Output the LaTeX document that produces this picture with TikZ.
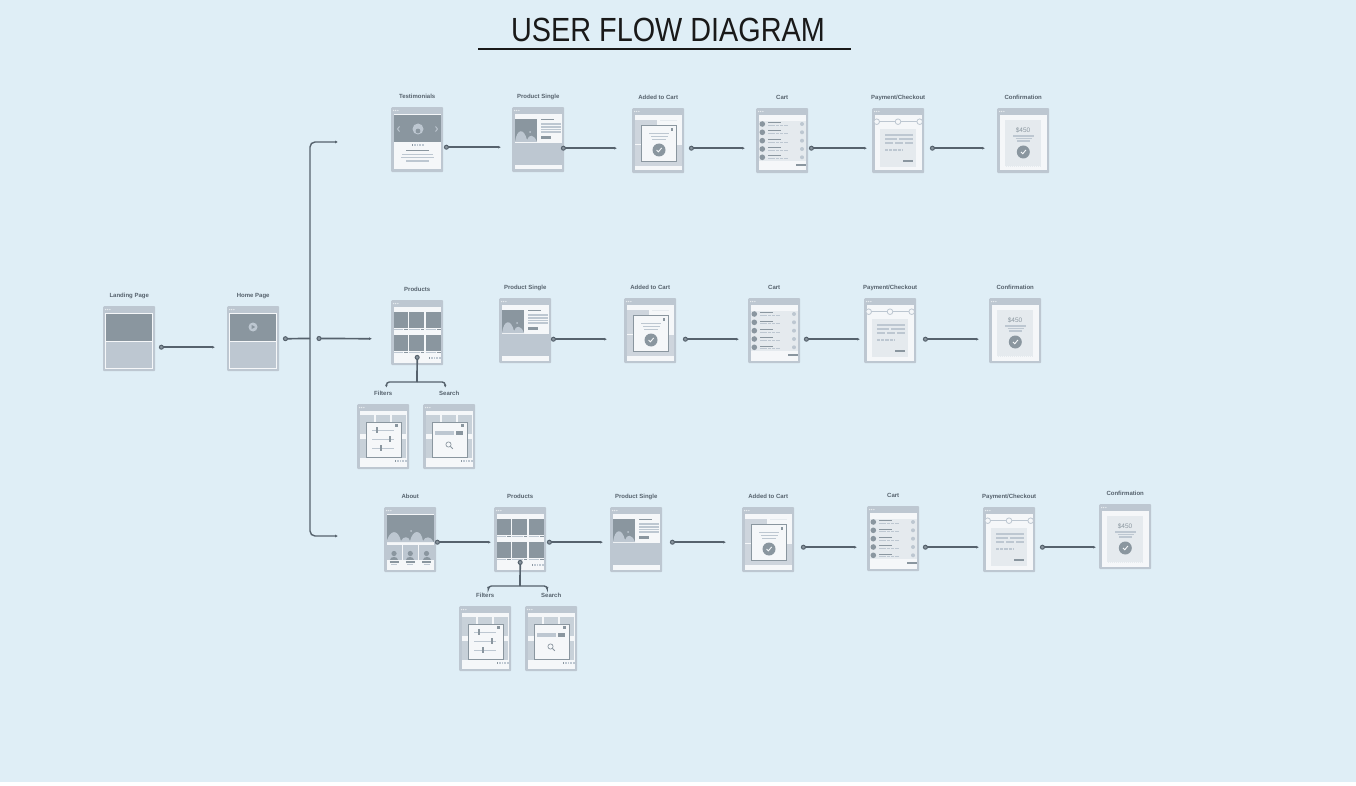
\documentclass[tikz,border=0pt]{standalone}
\usepackage{fontspec}
\setmainfont{Liberation Sans}
\newfontfamily\titlefont[FakeStretch=0.86]{Liberation Sans}
\usetikzlibrary{positioning,arrows.meta}
\definecolor{backc}{HTML}{DFEEF6}
\definecolor{framec}{HTML}{BDC7D1}
\definecolor{darkc}{HTML}{8A969F}
\definecolor{paperc}{HTML}{F5F7F9}
\definecolor{panelc}{HTML}{E5EAEE}
\definecolor{linec}{HTML}{56626D}

% little helpers used by the page sketches
\newcommand{\sheet}{\fill[paperc] (2.5,7) rectangle (49.5,62.5);}
\newcommand{\txt}[4][framec]{\draw[#1, line width=1.1pt] (#2,#4) -- (#3,#4);}
\newcommand{\okmark}[2]{
  \fill[darkc] (#1,#2) circle (6.5pt);
  \draw[paperc, line width=.9pt] (#1-2.4,#2) -- (#1-.6,#2+1.8) -- (#1+2.6,#2-2);
}
\newcommand{\pager}[2]{
  \fill[darkc] (#1,#2-.8) rectangle (#1+1.6,#2+.8);
  \foreach \k in {1,...,4} \fill[framec] (#1+\k*2.6,#2-.8) rectangle (#1+\k*2.6+1.6,#2+.8);
}
\newcommand{\closex}[2]{\fill[darkc] (#1-1.1,#2-1.1) rectangle (#1+1.1,#2+1.1);}

\tikzset{
  barb/.tip={Latex[length=2.8pt, width=2.8pt]},
  landing page/.pic={
    \fill[paperc] (2,7) rectangle (50,63);
    \fill[darkc] (3,8) rectangle (49,35);
    \fill[framec] (3,36) rectangle (49,62);
  },
  home page/.pic={
    \fill[paperc] (2,7) rectangle (50,63);
    \fill[darkc] (3,8) rectangle (49,35);
    \fill[framec] (3,36) rectangle (49,62);
    \fill[framec] (26,21) circle (4.5pt);
    \fill[darkc] (24.6,19) -- (28.4,21) -- (24.6,23) -- cycle;
  },
  quotes page/.pic={
    \sheet
    \fill[darkc] (3,8) rectangle (50,35);
    \fill[framec] (27,22) circle (5.5pt);
    \fill[darkc] (27,24) circle (2.4pt);
    \draw[framec, line width=.9pt] (8.5,19.5) -- (6.5,22) -- (8.5,24.5);
    \draw[framec, line width=.9pt] (44.5,19.5) -- (46.5,22) -- (44.5,24.5);
    \pager{20.5}{38}
    \txt[darkc]{15}{38}{43.5}
    \txt{11}{42}{47.5}
    \txt{10}{43}{50.5}
    \txt{15}{38}{54}
  },
  single page/.pic={
    \sheet
    \fill[darkc] (3,12) rectangle (25,35);
    \fill[framec] (3,35) .. controls (5,21) and (12,21) .. (15,33) .. controls (17,27) and (22,27) .. (25,35) -- cycle;
    \fill[framec] (18,25) circle (1pt);
    \txt[darkc]{29}{42}{12.5}
    \foreach \yy in {17,20,22.5,25} \txt{29}{49}{\yy}
    \fill[darkc] (29,29) rectangle (39,32);
    \fill[framec] (3,36) rectangle (50,58);
  },
  added page/.pic={
    \sheet
    \fill[framec!70!paperc] (3,12) rectangle (25,36);
    \fill[framec!70!paperc] (3,37) rectangle (50,58);
    \txt[panelc]{28}{45}{12.5}
    \fill[paperc, draw=darkc, line width=.6pt] (9,17.5) rectangle (44.5,53);
    \closex{40}{21.5}
    \txt{17}{37}{25.5}
    \txt{19}{36}{28.5}
    \txt{20}{34}{31.5}
    \okmark{27}{42}
  },
  cart page/.pic={
    \sheet
    \fill[panelc] (2.5,13) rectangle (49.5,53);
    \foreach \yy in {16,24.3,32.7,41,49.3}{
      \fill[darkc] (6.3,\yy) circle (2.8pt);
      \fill[framec] (46,\yy) circle (2pt);
      \draw[darkc, line width=.8pt] (12,\yy-1.4) -- (25,\yy-1.4);
      \draw[framec, line width=.8pt, dash pattern=on 7pt off 1pt on 3pt off 1pt on 3pt off 1pt] (12,\yy+1.4) -- (32,\yy+1.4);
    }
    \fill[darkc] (40,55.8) rectangle (50,58.4);
  },
  pay page/.pic={
    \sheet
    \draw[framec, line width=.8pt] (4.7,13.7) -- (47.7,13.7);
    \foreach \xx in {4.7,26,47.7} \draw[framec, fill=paperc, line width=.8pt] (\xx,13.7) circle (2.8pt);
    \fill[panelc] (8,21) rectangle (44,59);
    \txt{13}{40.5}{27}
    \txt{13}{25}{31}
    \txt{27}{40.5}{31}
    \txt{13}{21}{35}
    \txt{23}{31}{35}
    \txt{33}{40.5}{35}
    \draw[framec, line width=1.1pt, dash pattern=on 3.2pt off 1pt] (13,42) -- (31,42);
    \fill[darkc] (31,52) rectangle (40.5,54.4);
  },
  confirm page/.pic={
    \sheet
    \fill[panelc] (8,12) rectangle (44,59);
    \draw[paperc, line width=.8pt, dash pattern=on 1pt off 1pt] (8,58.8) -- (44,58.8);
    \node[amount] (#1) at (26,22) {\$450};
    \txt{16}{37}{28}
    \txt{18.5}{35}{30.5}
    \txt{20}{33}{33}
    \okmark{26.3}{44}
  },
  products page/.pic={
    \sheet
    \foreach \yy in {12,35}{
      \foreach \xx/\xe in {2.5/16.5,18/33,34.5/49.5}{
        \fill[darkc] (\xx,\yy) rectangle (\xe,\yy+15.5);
        \draw[framec, line width=.7pt] (\xx,\yy+17) -- (\xe-4.5,\yy+17);
        \draw[darkc, line width=.7pt] (\xe-3.5,\yy+17) -- (\xe,\yy+17);
      }
    }
    \pager{37.5}{58}
  },
  about page/.pic={
    \sheet
    \fill[darkc] (2.5,8) rectangle (49.5,35);
    \fill[framec] (2.5,35) .. controls (6,22) and (14,22) .. (17,34) .. controls (19,29) and (25,29) .. (26,34) .. controls (29,22) and (37,22) .. (39,34) .. controls (41,29) and (47,29) .. (49.5,35) -- cycle;
    \fill[framec] (27,24) circle (1pt);
    \foreach \xx in {10,26.3,42.5}{
      \fill[framec] (\xx-7.5,38) rectangle (\xx+7.5,53);
      \fill[darkc] (\xx,46.5) circle (2.6pt);
      \fill[darkc] (\xx-4,53) .. controls (\xx-4,49) and (\xx+4,49) .. (\xx+4,53) -- cycle;
      \txt[darkc]{\xx-4.5}{\xx+4.5}{55}
      \txt{\xx-3}{\xx+3}{57.5}
    }
  },
  faded tiles/.pic={
    \sheet
    \foreach \yy in {11,34.5}{
      \foreach \xx/\xe in {2.7/17,19/33,35/49}{
        \fill[framec!80!paperc] (\xx,\yy) rectangle (\xe,\yy+19);
      }
    }
    \pager{37.5}{57}
    \fill[paperc, draw=darkc, line width=.6pt] (9,18) rectangle (44,53);
    \closex{39.5}{21.5}
  },
  filters page/.pic={
    \pic {faded tiles};
    \foreach \yy/\kx in {26/20,35/33,44/24}{
      \draw[framec, line width=.9pt] (15,\yy) -- (37,\yy);
      \fill[darkc] (\kx-1,\yy-2.6) rectangle (\kx+1,\yy+2.6);
    }
  },
  search page/.pic={
    \pic {faded tiles};
    \fill[framec] (12,27) rectangle (31,31);
    \fill[darkc] (32.5,27) rectangle (40,31);
    \draw[darkc, line width=.7pt] (25.5,40.5) circle (2.6pt);
    \draw[darkc, line width=.9pt] (27.4,42.4) -- (29.8,44.8);
  },
}

\newcommand{\screen}[5]{
  \node[screen] (#1) at (#2,#3) {};
  \foreach \d in {2.5,4.7,6.9} \fill[panelc] ([shift={(\d,3.5)}]#1.north west) circle (.75pt);
  \pic at (#1.north west) {#4};
  \node[caption, above=7pt of #1] (#1-label) {#5};
}
% a connector that starts with a small ring
\newcommand{\link}[3][flow]{
  \draw[#1] (#2) -- (#3);
  \draw[ring] (#2) circle (2pt);
}

\begin{document}
\begin{tikzpicture}[x=1pt, y=-1pt,
    screen/.style={rectangle, anchor=north west, fill=framec, minimum width=52pt, minimum height=65pt, inner sep=0pt, rounded corners=1pt},
    caption/.style={inner sep=0pt, text=linec, font=\fontsize{6}{6}\selectfont\bfseries, text height=4.8pt, text depth=1.2pt},
    amount/.style={inner sep=0pt, text=darkc, font=\fontsize{6.5}{6.5}\selectfont},
    flow/.style={draw=linec, line width=1.7pt, -barb},
    stem/.style={draw=linec, line width=1.7pt},
    ring/.style={draw=linec, fill=darkc, line width=1pt},
    tree/.style={draw=linec, line width=1.4pt, rounded corners=3pt}]

    \useasboundingbox (0,0) rectangle (1356,786);
    \fill[backc] (0,0) rectangle (1356,782);

    \node[inner sep=0pt, text=black!90, font=\titlefont\fontsize{33.5}{34}\selectfont] (title) at (668,30) {USER FLOW DIAGRAM};
    \coordinate (ruleleft) at (478,49);
    \coordinate (ruleright) at (851,49);
    \draw[black!90, line width=1.3pt] (ruleleft) -- (ruleright);

    \screen{landing}{103}{306}{landing page}{Landing Page}
    \screen{home}{227}{306}{home page}{Home Page}

    % top row
    \screen{quotes}{391}{107}{quotes page}{Testimonials}
    \screen{singleA}{512}{107}{single page}{Product Single}
    \screen{addedA}{632}{108}{added page}{Added to Cart}
    \screen{cartA}{756}{108}{cart page}{Cart}
    \screen{payA}{872}{108}{pay page}{Payment/Checkout}
    \screen{confirmA}{997}{108}{confirm page}{Confirmation}

    % middle row
    \screen{productsB}{391}{300}{products page}{Products}
    \screen{singleB}{499}{298}{single page}{Product Single}
    \screen{addedB}{624}{298}{added page}{Added to Cart}
    \screen{cartB}{748}{298}{cart page}{Cart}
    \screen{payB}{864}{298}{pay page}{Payment/Checkout}
    \screen{confirmB}{989}{298}{confirm page}{Confirmation}
    \screen{filtersB}{357}{404}{filters page}{Filters}
    \screen{searchB}{423}{404}{search page}{Search}

    % bottom row
    \screen{about}{384}{507}{about page}{About}
    \screen{productsC}{494}{507}{products page}{Products}
    \screen{singleC}{610}{507}{single page}{Product Single}
    \screen{addedC}{742}{507}{added page}{Added to Cart}
    \screen{cartC}{867}{506}{cart page}{Cart}
    \screen{payC}{983}{507}{pay page}{Payment/Checkout}
    \screen{confirmC}{1099}{504}{confirm page}{Confirmation}
    \screen{filtersC}{459}{606}{filters page}{Filters}
    \screen{searchC}{525}{606}{search page}{Search}

    \coordinate (trunk) at (310,338.5);
    \coordinate (branchtop) at (338,142);
    \coordinate (branchbottom) at (338,536);
    \coordinate (branchmid) at (319,338.5);

    \link{[xshift=6pt,yshift=-8.5pt]landing.east}{[xshift=-12pt,yshift=-8.5pt]home.west}
    \link[stem]{[xshift=6pt]home.east}{trunk}
    \draw[tree, barb-barb, rounded corners=5pt] (branchtop) -- (310,142) -- (310,536) -- (branchbottom);
    \link{branchmid}{[xshift=-19pt,yshift=-6pt]productsB.west}

    \link{[xshift=3pt,yshift=-7.5pt]quotes.east}{[xshift=-11pt,yshift=-7.5pt]singleA.west}
    \link{[xshift=-1pt,yshift=-8.5pt]singleA.east}{[xshift=-15pt,yshift=-7.5pt]addedA.west}
    \link{[xshift=7pt,yshift=-7.5pt]addedA.east}{[xshift=-11pt,yshift=-7.5pt]cartA.west}
    \link{[xshift=3pt,yshift=-7.5pt]cartA.east}{[xshift=-5pt,yshift=-7.5pt]payA.west}
    \link{[xshift=8pt,yshift=-7.5pt]payA.east}{[xshift=-12pt,yshift=-7.5pt]confirmA.west}

    \link{[xshift=2pt,yshift=-8.5pt]singleB.east}{[xshift=-17pt,yshift=-8.5pt]addedB.west}
    \link{[xshift=9pt,yshift=-8.5pt]addedB.east}{[xshift=-9pt,yshift=-8.5pt]cartB.west}
    \link{[xshift=6pt,yshift=-8.5pt]cartB.east}{[xshift=-4pt,yshift=-8.5pt]payB.west}
    \link{[xshift=9pt,yshift=-8.5pt]payB.east}{[xshift=-10pt,yshift=-8.5pt]confirmB.west}

    \link{[xshift=1pt,yshift=-2.5pt]about.east}{[xshift=-3pt,yshift=-2.5pt]productsC.west}
    \link{[xshift=3pt,yshift=-2.5pt]productsC.east}{[xshift=-7pt,yshift=-2.5pt]singleC.west}
    \link{[xshift=10pt,yshift=-2.5pt]singleC.east}{[xshift=-16pt,yshift=-2.5pt]addedC.west}
    \link{[xshift=9pt,yshift=-7.5pt]addedC.east}{[xshift=-10pt,yshift=-8.5pt]cartC.west}
    \link{[xshift=6pt,yshift=-8.5pt]cartC.east}{[xshift=-4pt,yshift=-7.5pt]payC.west}
    \link{[xshift=7pt,yshift=-7.5pt]payC.east}{[xshift=-3pt,yshift=-10.5pt]confirmC.west}

    % drop-downs below the two product grids
    \coordinate (forkB) at (417,382);
    \coordinate (forkC) at (520,586);
    \link[stem]{[yshift=8pt]productsB.south}{forkB}
    \draw[tree, barb-barb] ([xshift=-6pt,yshift=3pt]filtersB-label.north east) |- (forkB) -| ([xshift=-4pt,yshift=3pt]searchB-label.north);
    \link[stem]{[yshift=10pt]productsC.south}{forkC}
    \draw[tree, barb-barb] ([xshift=-6pt,yshift=3pt]filtersC-label.north east) |- (forkC) -| ([xshift=-4pt,yshift=3pt]searchC-label.north);

\end{tikzpicture}
\end{document}
